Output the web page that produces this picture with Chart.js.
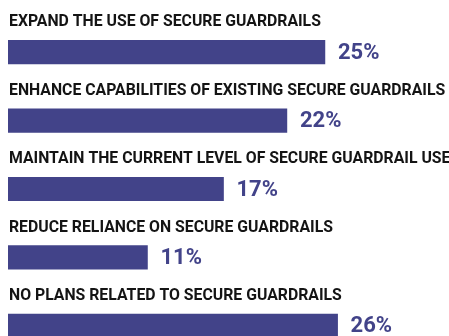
<!DOCTYPE html>
<html>
<head>
<meta charset="utf-8">
<script src="https://cdn.jsdelivr.net/npm/chart.js@4/dist/chart.umd.min.js"></script>
<style>
  html, body { margin: 0; padding: 0; background: #fff; overflow: hidden; }
  #wrap { position: relative; width: 449px; height: 360px; }
</style>
</head>
<body>
<div id="wrap"><canvas id="chart"></canvas></div>
<script>
// Datos
const categories = [
  'EXPAND THE USE OF SECURE GUARDRAILS',
  'ENHANCE CAPABILITIES OF EXISTING SECURE GUARDRAILS',
  'MAINTAIN THE CURRENT LEVEL OF SECURE GUARDRAIL USE',
  'REDUCE RELIANCE ON SECURE GUARDRAILS',
  'NO PLANS RELATED TO SECURE GUARDRAILS',
];
const percentages = [25, 22, 17, 11, 26];

const barColor = '#424389';

// Etiquetas encima de cada barra y valor a la derecha
const labelsPlugin = {
  id: 'barLabels',
  afterDatasetsDraw(chart) {
    const ctx = chart.ctx;
    const meta = chart.getDatasetMeta(0);
    ctx.save();
    meta.data.forEach((bar, i) => {
      const top = bar.y - bar.height / 2;
      // categoría
      ctx.font = 'bold 15.8px Roboto';
      ctx.fillStyle = '#141414';
      ctx.textAlign = 'left';
      ctx.textBaseline = 'alphabetic';
      ctx.fillText(categories[i], bar.base + 1, top - 14);
      // valor
      ctx.font = 'bold 22px Roboto';
      ctx.fillStyle = barColor;
      ctx.textBaseline = 'middle';
      ctx.fillText(percentages[i] + '%', bar.x + 13, bar.y + 1);
    });
    ctx.restore();
  },
};

new Chart(document.getElementById('chart'), {
  type: 'bar',
  data: {
    labels: categories,
    datasets: [{
      data: percentages,
      backgroundColor: barColor,
      barThickness: 23.5,
    }],
  },
  options: {
    indexAxis: 'y',
    responsive: true,
    maintainAspectRatio: false,
    animation: false,
    layout: { padding: { top: 18, bottom: 0, left: 8, right: 10 } },
    scales: {
      x: { min: 0, max: 34, display: false },
      y: { display: false },
    },
    plugins: {
      legend: { display: false },
      tooltip: { enabled: false },
    },
  },
  plugins: [labelsPlugin],
});
</script>
</body>
</html>
